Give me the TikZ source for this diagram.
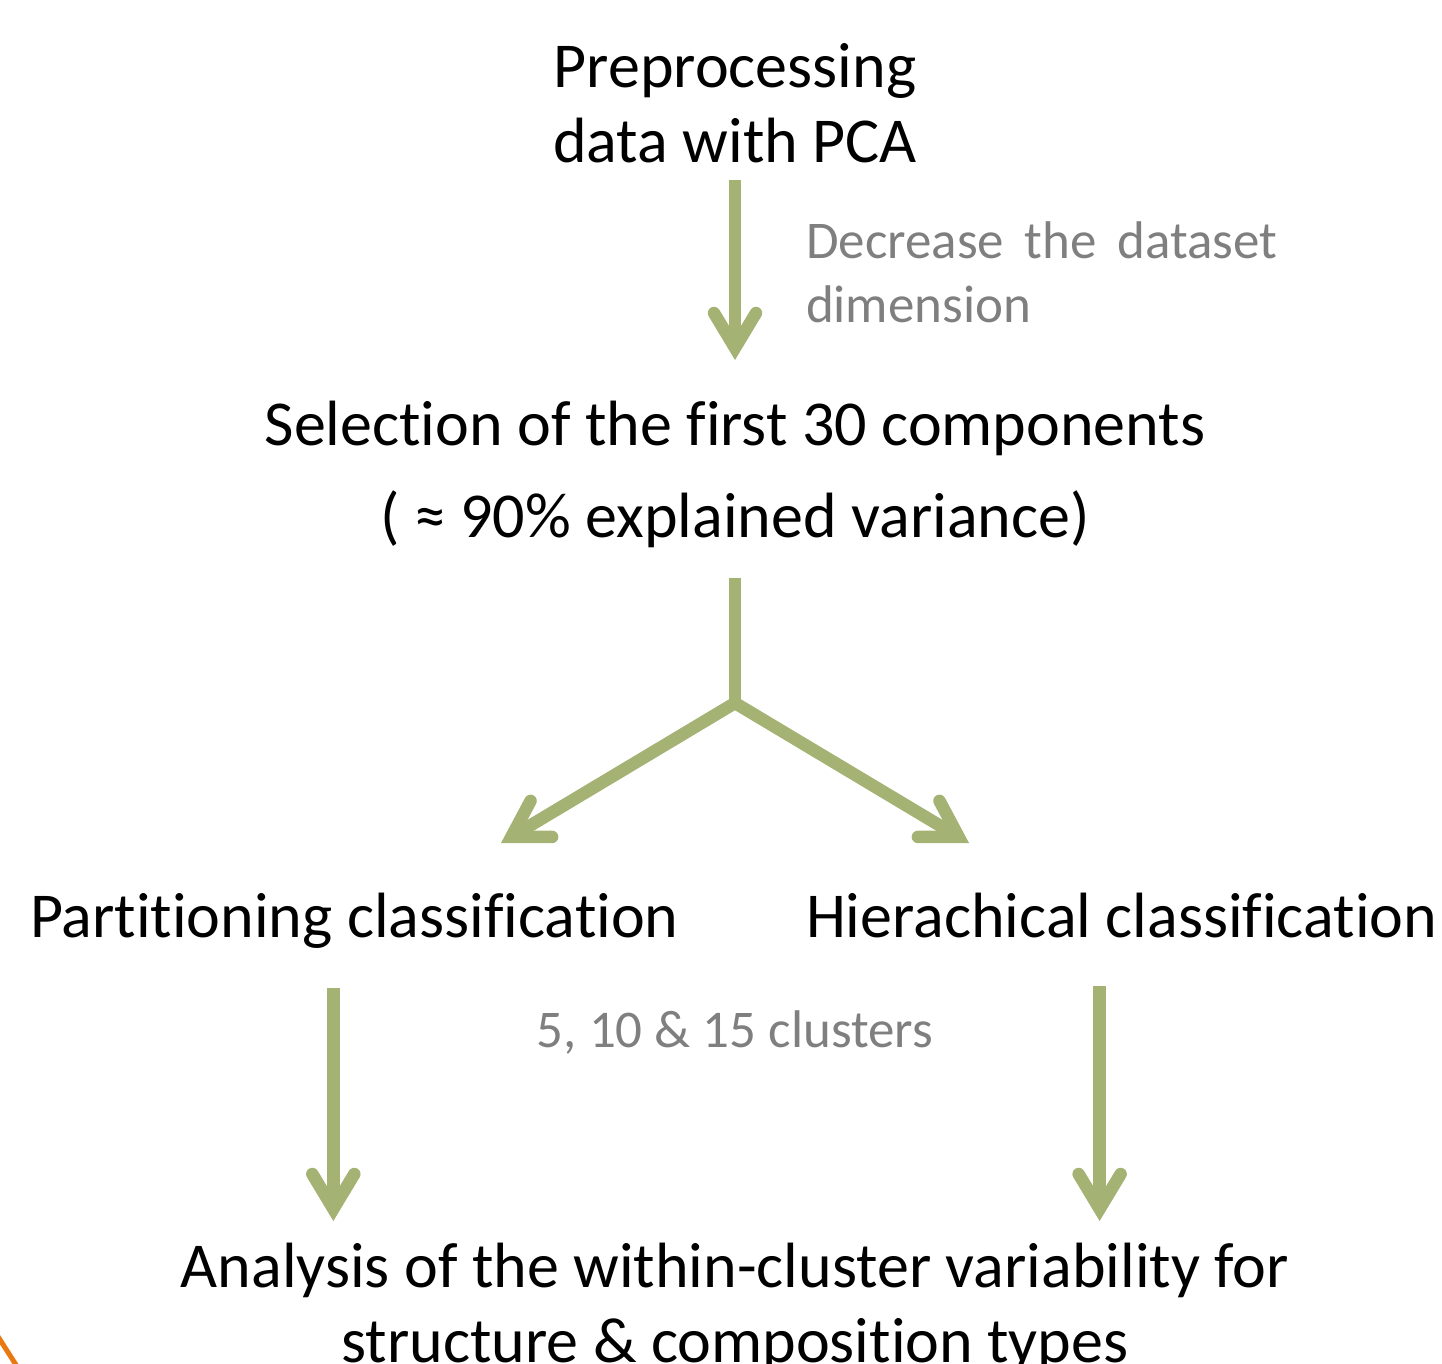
\documentclass[tikz,border=0pt]{standalone}
\usepackage{fontspec}
\setmainfont{Carlito}[Ligatures=NoCommon]
\usetikzlibrary{calc}

\definecolor{leaf}{HTML}{A4B374}
\definecolor{notegray}{HTML}{7F7F7F}
\definecolor{rim}{HTML}{E8780F}

% Open chevron head with a filled, mitred point and rounded barbs
\pgfdeclarearrow{
  name = Chevron,
  setup code = {
    \pgfarrowssettipend{0pt}
    \pgfarrowssetlineend{-18pt}
    \pgfarrowssetbackend{-54pt}
    \pgfarrowssetvisualbackend{-54pt}
    \pgfarrowshullpoint{0pt}{0pt}
    \pgfarrowshullpoint{-54pt}{28pt}
    \pgfarrowshullpoint{-54pt}{-28pt}
  },
  drawing code = {
    \pgfsetdash{}{0pt}
    \pgfsetlinewidth{12.5pt}
    \pgfsetroundcap
    \pgfsetmiterjoin
    \pgfpathmoveto{\pgfqpoint{-47pt}{21pt}}
    \pgfpathlineto{\pgfqpoint{-12.1pt}{0pt}}
    \pgfpathlineto{\pgfqpoint{-47pt}{-21pt}}
    \pgfusepathqstroke
  }
}

\begin{document}
\begin{tikzpicture}[x=1pt, y=-1pt,
  every node/.style={inner sep=0pt, outer sep=0pt},
  stage/.style={font=\fontsize{64}{75}\selectfont, align=center, anchor=base},
  remark/.style={font=\fontsize{53}{64}\selectfont, text=notegray, anchor=base},
  link/.style={draw=leaf, line width=12.5pt},
  flow/.style={link, -Chevron}]

\useasboundingbox (0,0) rectangle (1442,1363);

% text blocks
\node[stage] (pre) at (735,162) {Preprocessing\\data with PCA};
\node[remark, text width=471pt, align=left, anchor=base west] (dim) at (806,258)
  {Decrease\hfill the\hfill dataset\\dimension};
\node[stage, font=\fontsize{64}{92}\selectfont] (sel) at (735,537)
  {Selection of the first 30 components\\( ≈ 90\% explained variance)};
\node[stage, anchor=base west] (part) at (30,937) {Partitioning classification};
\node[stage, anchor=base west] (hier) at (806,937) {Hierachical classification};
\node[remark] (k) at (735,1047) {5, 10 \& 15 clusters};
\node[stage] (ana) at (735,1362)
  {Analysis of the within-cluster variability for\\structure \& composition types};

% connectors
\draw[flow] ($(pre.base)+(0,18)$) -- ($(sel.base)+(0,-177)$);
\coordinate (split) at (735,703);
\coordinate (tipL) at (501,843);
\coordinate (tipR) at (969,843);
\draw[link] ($(sel.base)+(0,41)$) -- ($(split)+(0,2)$);
\draw[flow] (split) -- (tipL);
\draw[flow] (split) -- (tipR);
\draw[flow] ($(part.base)+(-21,51)$) coordinate (p0) -- ($(p0)+(0,233)$);
\draw[flow] ($(hier.base)+(-22,49)$) coordinate (h0) -- ($(h0)+(0,235)$);

% edge of a neighbouring shape
\draw[rim, line width=5pt] (-3,1335) -- (18,1368);
\end{tikzpicture}
\end{document}
